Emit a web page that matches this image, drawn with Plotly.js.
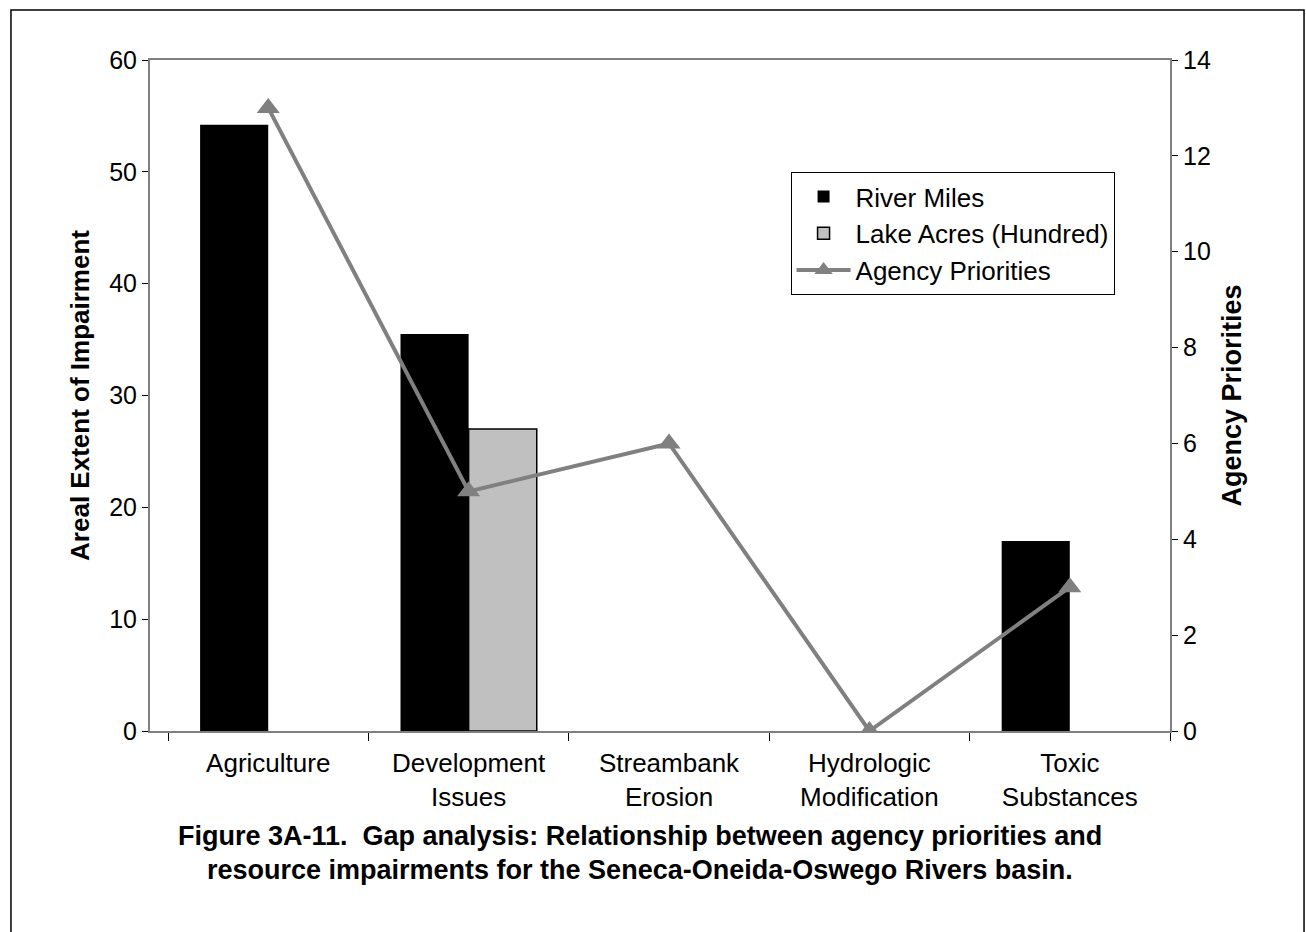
<!DOCTYPE html>
<html>
<head>
<meta charset="utf-8">
<script src="https://cdn.plot.ly/plotly-3.0.1.min.js"></script>
<style>
  html, body { margin: 0; padding: 0; background: #fff; }
  #plot { width: 1306px; height: 932px; }
</style>
</head>
<body>
<div id="plot"></div>
<script>
var categories = ['Agriculture', 'Development<br>Issues', 'Streambank<br>Erosion', 'Hydrologic<br>Modification', 'Toxic<br>Substances'];
var riverMiles = [54.2, 35.5, 0, 0, 17];
var lakeAcres = [null, 27, null, null, null];
var agencyPriorities = [13, 5, 6, 0, 3];

var font = 'Arial, "Liberation Sans", sans-serif';

var trace1 = {
  x: categories,
  y: riverMiles,
  name: 'River Miles',
  type: 'bar',
  marker: {color: '#000000', line: {width: 0}}
};

var trace2 = {
  x: categories,
  y: lakeAcres,
  name: 'Lake Acres (Hundred)',
  type: 'bar',
  marker: {color: '#c0c0c0', line: {color: '#000000', width: 1.5}}
};

var trace3 = {
  x: categories,
  y: agencyPriorities,
  name: 'Agency Priorities',
  type: 'scatter',
  mode: 'lines+markers',
  yaxis: 'y2',
  line: {color: '#808080', width: 4},
  marker: {symbol: 'triangle-up', size: 20, color: '#808080'}
};

var data = [trace1, trace2, trace3];

var layout = {
  width: 1306,
  height: 932,
  margin: {l: 150, r: 136, t: 60, b: 201},
  paper_bgcolor: '#ffffff',
  plot_bgcolor: '#ffffff',
  font: {family: font, size: 26, color: '#000000'},
  barmode: 'group',
  bargap: 0.32,
  bargroupgap: 0,
  showlegend: true,
  legend: {
    x: 0.628, y: 0.833, xanchor: 'left', yanchor: 'top',
    bgcolor: '#ffffff', bordercolor: '#000000', borderwidth: 1,
    font: {family: font, size: 26},
    itemwidth: 54,
    tracegroupgap: 0,
    traceorder: 'normal'
  },
  xaxis: {
    type: 'category',
    range: [-0.59, 4.5],
    tickson: 'boundaries',
    ticks: 'outside', ticklen: 8, tickcolor: '#000000',
    ticklabelstandoff: 8,
    showline: true, linecolor: '#808080', linewidth: 2, mirror: true,
    showgrid: false, zeroline: false,
    tickfont: {size: 26}
  },
  yaxis: {
    range: [0, 60], dtick: 10,
    ticks: 'outside', ticklen: 6, tickcolor: '#000000',
    showline: true, linecolor: '#808080', linewidth: 2,
    showgrid: false, zeroline: false,
    tickfont: {size: 25},
    title: {text: '<b>Areal Extent of Impairment</b>', font: {size: 26}, standoff: 12}
  },
  yaxis2: {
    range: [0, 14], dtick: 2,
    overlaying: 'y', side: 'right',
    ticks: 'outside', ticklen: 6, tickcolor: '#000000',
    showline: true, linecolor: '#808080', linewidth: 2,
    showgrid: false, zeroline: false,
    tickfont: {size: 25},
    title: {text: '<b>Agency Priorities</b>', font: {size: 27}, standoff: 12}
  },
  shapes: [{
    type: 'rect', xref: 'paper', yref: 'paper',
    x0: -0.1363, x1: 1.1314, y0: -0.33, y1: 1.0745,
    line: {color: '#000000', width: 1.5}
  }],
  annotations: [{
    xref: 'paper', yref: 'paper', x: 0.48, y: -0.1565,
    xanchor: 'center', yanchor: 'middle', showarrow: false,
    text: '<b>Figure 3A-11.  Gap analysis: Relationship between agency priorities and</b>',
    font: {family: font, size: 27}
  }, {
    xref: 'paper', yref: 'paper', x: 0.48, y: -0.2072,
    xanchor: 'center', yanchor: 'middle', showarrow: false,
    text: '<b>resource impairments for the Seneca-Oneida-Oswego Rivers basin.</b>',
    font: {family: font, size: 27}
  }]
};

Plotly.newPlot('plot', data, layout, {displayModeBar: false});
</script>
</body>
</html>
